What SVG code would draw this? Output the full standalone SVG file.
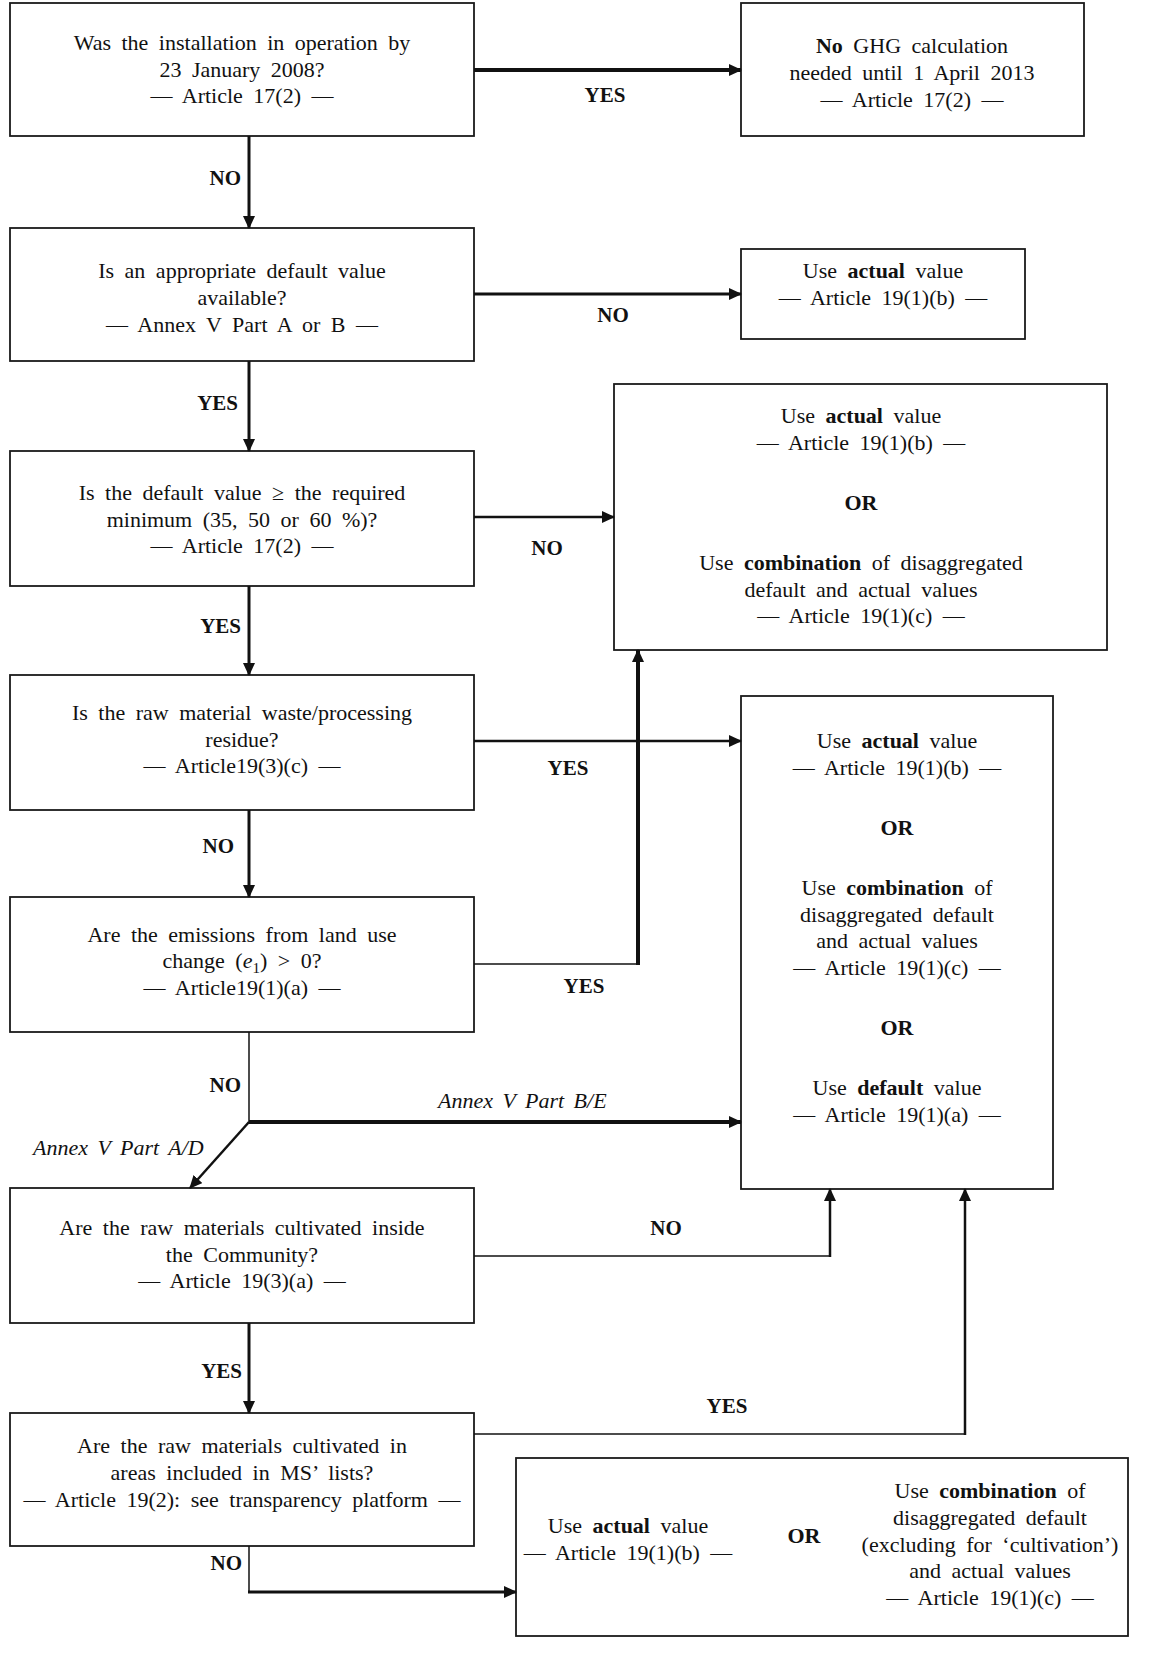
<svg xmlns="http://www.w3.org/2000/svg" width="1149" height="1666" viewBox="0 0 1149 1666">
<style>
.box{fill:#fff;stroke:#1a1a1a;stroke-width:1.8}
.t{font-family:"Liberation Serif",serif;font-size:22px;fill:#111;text-anchor:middle;word-spacing:5px}
.b{font-weight:bold}
.lbl{font-family:"Liberation Serif",serif;font-size:21px;font-weight:bold;fill:#111}
.mid{text-anchor:middle}
.end{text-anchor:end}
.ann{font-family:"Liberation Serif",serif;font-size:22px;font-style:italic;fill:#111;word-spacing:4px}
.c{fill:none;stroke:#111}
</style>
<defs>
<marker id="ah" markerUnits="userSpaceOnUse" markerWidth="13" markerHeight="12" refX="12" refY="6" orient="auto">
<path d="M0,0 L13,6 L0,12 z" fill="#111"/>
</marker>
</defs>
<rect width="1149" height="1666" fill="#fff"/>

<g id="q1">
<rect class="box" x="10" y="3" width="464" height="133"/>
<text class="t" x="242" y="50">Was the installation in operation by</text>
<text class="t" x="242" y="77">23 January 2008?</text>
<text class="t" x="242" y="103">— Article 17(2) —</text>
</g>
<g id="r1">
<rect class="box" x="741" y="3" width="343" height="133"/>
<text class="t" x="912" y="53"><tspan class="b">No</tspan> GHG calculation</text>
<text class="t" x="912" y="80">needed until 1 April 2013</text>
<text class="t" x="912" y="107">— Article 17(2) —</text>
</g>
<g id="q2">
<rect class="box" x="10" y="228" width="464" height="133"/>
<text class="t" x="242" y="278">Is an appropriate default value</text>
<text class="t" x="242" y="305">available?</text>
<text class="t" x="242" y="332">— Annex V Part A or B —</text>
</g>
<g id="r2">
<rect class="box" x="741" y="249" width="284" height="90"/>
<text class="t" x="883" y="278">Use <tspan class="b">actual</tspan> value</text>
<text class="t" x="883" y="305">— Article 19(1)(b) —</text>
</g>
<g id="q3">
<rect class="box" x="10" y="451" width="464" height="135"/>
<text class="t" x="242" y="500">Is the default value ≥ the required</text>
<text class="t" x="242" y="527">minimum (35, 50 or 60 %)?</text>
<text class="t" x="242" y="553">— Article 17(2) —</text>
</g>
<g id="r3">
<rect class="box" x="614" y="384" width="493" height="266"/>
<text class="t" x="861" y="423">Use <tspan class="b">actual</tspan> value</text>
<text class="t" x="861" y="450">— Article 19(1)(b) —</text>
<text class="t b" x="861" y="510">OR</text>
<text class="t" x="861" y="570">Use <tspan class="b">combination</tspan> of disaggregated</text>
<text class="t" x="861" y="597">default and actual values</text>
<text class="t" x="861" y="623">— Article 19(1)(c) —</text>
</g>
<g id="q4">
<rect class="box" x="10" y="675" width="464" height="135"/>
<text class="t" x="242" y="720">Is the raw material waste/processing</text>
<text class="t" x="242" y="747">residue?</text>
<text class="t" x="242" y="773">— Article19(3)(c) —</text>
</g>
<g id="r4">
<rect class="box" x="741" y="696" width="312" height="493"/>
<text class="t" x="897" y="748">Use <tspan class="b">actual</tspan> value</text>
<text class="t" x="897" y="775">— Article 19(1)(b) —</text>
<text class="t b" x="897" y="835">OR</text>
<text class="t" x="897" y="895">Use <tspan class="b">combination</tspan> of</text>
<text class="t" x="897" y="922">disaggregated default</text>
<text class="t" x="897" y="948">and actual values</text>
<text class="t" x="897" y="975">— Article 19(1)(c) —</text>
<text class="t b" x="897" y="1035">OR</text>
<text class="t" x="897" y="1095">Use <tspan class="b">default</tspan> value</text>
<text class="t" x="897" y="1122">— Article 19(1)(a) —</text>
</g>
<g id="q5">
<rect class="box" x="10" y="897" width="464" height="135"/>
<text class="t" x="242" y="942">Are the emissions from land use</text>
<text class="t" x="242" y="968">change (<tspan font-style="italic">e</tspan><tspan font-size="15" dy="5">1</tspan><tspan dy="-5">) &gt; 0?</tspan></text>
<text class="t" x="242" y="995">— Article19(1)(a) —</text>
</g>
<g id="q6">
<rect class="box" x="10" y="1188" width="464" height="135"/>
<text class="t" x="242" y="1235">Are the raw materials cultivated inside</text>
<text class="t" x="242" y="1262">the Community?</text>
<text class="t" x="242" y="1288">— Article 19(3)(a) —</text>
</g>
<g id="q7">
<rect class="box" x="10" y="1413" width="464" height="133"/>
<text class="t" x="242" y="1453">Are the raw materials cultivated in</text>
<text class="t" x="242" y="1480">areas included in MS’ lists?</text>
<text class="t" x="242" y="1507">— Article 19(2): see transparency platform —</text>
</g>
<g id="r7">
<rect class="box" x="516" y="1458" width="612" height="178"/>
<text class="t" x="628" y="1533">Use <tspan class="b">actual</tspan> value</text>
<text class="t" x="628" y="1560">— Article 19(1)(b) —</text>
<text class="t b" x="804" y="1543">OR</text>
<text class="t" x="990" y="1498">Use <tspan class="b">combination</tspan> of</text>
<text class="t" x="990" y="1525">disaggregated default</text>
<text class="t" x="990" y="1552">(excluding for ‘cultivation’)</text>
<text class="t" x="990" y="1578">and actual values</text>
<text class="t" x="990" y="1605">— Article 19(1)(c) —</text>
</g>

<g id="connectors">
<path class="c" stroke-width="4" d="M474,70 H741" marker-end="url(#ah)"/>
<path class="c" stroke-width="3" d="M249,136 V228" marker-end="url(#ah)"/>
<path class="c" stroke-width="3" d="M474,294 H741" marker-end="url(#ah)"/>
<path class="c" stroke-width="3" d="M249,361 V451" marker-end="url(#ah)"/>
<path class="c" stroke-width="2.5" d="M474,517 H614" marker-end="url(#ah)"/>
<path class="c" stroke-width="3" d="M249,586 V675" marker-end="url(#ah)"/>
<path class="c" stroke-width="2.5" d="M474,741 H741" marker-end="url(#ah)"/>
<path class="c" stroke-width="3" d="M249,810 V897" marker-end="url(#ah)"/>
<path class="c" stroke-width="1.5" d="M474,964 H638"/>
<path class="c" stroke-width="4" d="M638,965 V650" marker-end="url(#ah)"/>
<path class="c" stroke-width="1.5" d="M249,1032 V1122"/>
<path class="c" stroke-width="4" d="M249,1122 H741" marker-end="url(#ah)"/>
<path class="c" stroke-width="2.5" d="M249,1122 L190,1188" marker-end="url(#ah)"/>
<path class="c" stroke-width="1.5" d="M474,1256 H830"/>
<path class="c" stroke-width="2.5" d="M830,1257 V1189" marker-end="url(#ah)"/>
<path class="c" stroke-width="3" d="M249,1323 V1413" marker-end="url(#ah)"/>
<path class="c" stroke-width="1.5" d="M474,1434 H965"/>
<path class="c" stroke-width="2.5" d="M965,1435 V1189" marker-end="url(#ah)"/>
<path class="c" stroke-width="1.5" d="M249,1546 V1592"/>
<path class="c" stroke-width="3" d="M248,1592 H516" marker-end="url(#ah)"/>
<text class="lbl mid" x="605" y="102">YES</text>
<text class="lbl end" x="241" y="185">NO</text>
<text class="lbl mid" x="613" y="322">NO</text>
<text class="lbl end" x="238" y="410">YES</text>
<text class="lbl mid" x="547" y="555">NO</text>
<text class="lbl end" x="241" y="633">YES</text>
<text class="lbl mid" x="568" y="775">YES</text>
<text class="lbl end" x="234" y="853">NO</text>
<text class="lbl mid" x="584" y="993">YES</text>
<text class="lbl end" x="241" y="1092">NO</text>
<text class="ann" x="438" y="1108">Annex V Part B/E</text>
<text class="ann" x="33" y="1155">Annex V Part A/D</text>
<text class="lbl mid" x="666" y="1235">NO</text>
<text class="lbl end" x="242" y="1378">YES</text>
<text class="lbl mid" x="727" y="1413">YES</text>
<text class="lbl end" x="242" y="1570">NO</text>
</g>
</svg>
